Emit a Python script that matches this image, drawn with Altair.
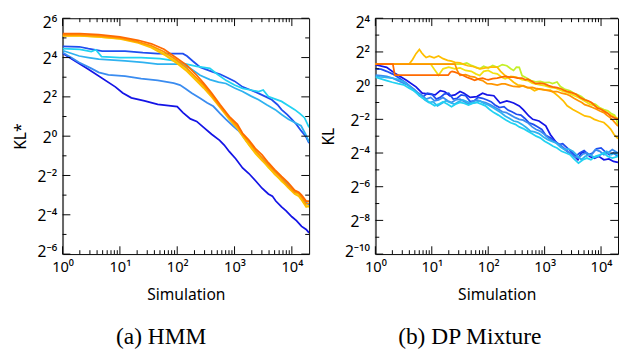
import altair as alt
import pandas as pd

# ---------------------------------------------------------------
# Values, as (log10 Simulation, log2 KL)
# ---------------------------------------------------------------

# (a) HMM
hmm_dark_blue = [(0,4.22),(0.45,3.4),(0.92,2.51),(1.05,2.2),(1.2,1.95),(1.43,1.8),(1.66,1.62),(1.85,1.55),(2.0,1.5),(2.1,1.2),(2.23,0.88),(2.34,0.75),(2.46,0.45),(2.6,0.1),(2.74,-0.21),(2.82,-0.45),(2.91,-0.79),(3.02,-1.15),(3.14,-1.62),(3.25,-1.9),(3.37,-2.28),(3.48,-2.65),(3.59,-2.94),(3.66,-3.05),(3.72,-3.3),(3.82,-3.6),(3.9,-3.8),(4.0,-4.1),(4.08,-4.3),(4.17,-4.59),(4.25,-4.75),(4.3,-4.92)]
hmm_blue = [(0,4.57),(0.29,4.55),(0.45,4.45),(0.69,4.33),(1.09,4.33),(1.4,4.25),(1.66,4.2),(2.0,4.2),(2.1,4.2),(2.17,4.08),(2.28,3.8),(2.4,3.51),(2.5,3.4),(2.63,3.26),(2.75,3.15),(2.85,3.01),(3.0,2.8),(3.14,2.51),(3.28,2.35),(3.42,2.18),(3.55,2.0),(3.65,1.85),(3.75,1.6),(3.82,1.35),(3.92,1.1),(4.0,0.86),(4.08,0.6),(4.16,0.28),(4.24,0.0),(4.3,-0.35)]
hmm_azure = [(0,4.26),(0.15,4.0),(0.29,3.75),(0.5,3.45),(0.63,3.25),(0.8,3.12),(1.09,3.05),(1.37,2.93),(1.66,2.84),(1.94,2.7),(2.05,2.6),(2.14,2.43),(2.25,2.2),(2.4,1.93),(2.52,1.7),(2.63,1.52),(2.75,1.15),(2.85,0.86),(2.97,0.53),(3.06,0.3),(3.14,0.04),(3.22,-0.3),(3.31,-0.63),(3.42,-0.95),(3.54,-1.29),(3.68,-1.7),(3.82,-2.12),(3.96,-2.55),(4.11,-2.94),(4.22,-3.3),(4.3,-3.5)]
hmm_sky = [(0,4.36),(0.29,4.08),(0.45,4.0),(0.63,3.92),(1.09,3.83),(1.4,3.75),(1.66,3.67),(2.06,3.67),(2.2,3.5),(2.4,3.1),(2.57,2.88),(2.72,2.75),(2.85,2.68),(3.0,2.45),(3.14,2.27),(3.28,2.05),(3.42,1.85),(3.56,1.6),(3.71,1.35),(3.82,1.1),(3.94,0.86),(4.05,0.7),(4.16,0.53),(4.24,0.1),(4.3,-0.3)]
hmm_cyan = [(0,4.46),(0.3,4.42),(0.5,4.3),(0.58,4.4),(0.68,4.05),(1.0,4.0),(1.37,4.0),(1.7,3.95),(1.94,3.85),(2.1,3.7),(2.34,3.55),(2.57,3.45),(2.7,3.15),(2.85,2.84),(3.0,2.6),(3.14,2.43),(3.28,2.35),(3.42,2.27),(3.5,2.35),(3.59,2.02),(3.7,1.9),(3.82,1.77),(3.94,1.55),(4.05,1.35),(4.14,1.15),(4.22,0.94),(4.3,0.45)]
hmm_yellow = [(0,5.12),(0.3,5.12),(0.63,5.05),(1.0,4.97),(1.32,4.78),(1.55,4.55),(1.77,4.2),(2.0,3.75),(2.17,3.35),(2.34,2.85),(2.46,2.5),(2.6,2.05),(2.75,1.55),(2.91,0.9),(3.05,0.45),(3.14,0.05),(3.25,-0.4),(3.37,-0.85),(3.48,-1.2),(3.59,-1.6),(3.7,-1.9),(3.82,-2.3),(3.93,-2.55),(4.05,-2.9),(4.12,-2.95),(4.17,-3.2),(4.25,-3.55),(4.3,-3.6)]
hmm_gold = [(0,5.1),(0.3,5.1),(0.63,5.05),(1.0,4.95),(1.32,4.75),(1.55,4.5),(1.77,4.15),(2.0,3.7),(2.17,3.3),(2.34,2.8),(2.46,2.45),(2.6,2.0),(2.75,1.45),(2.91,0.85),(3.05,0.4),(3.14,0.0),(3.25,-0.45),(3.37,-0.9),(3.48,-1.25),(3.59,-1.55),(3.7,-1.95),(3.82,-2.25),(3.93,-2.6),(4.05,-2.95),(4.12,-3.05),(4.17,-3.25),(4.25,-3.6),(4.3,-3.55)]
hmm_orange = [(0,5.15),(0.3,5.15),(0.63,5.1),(1.0,5.0),(1.32,4.8),(1.55,4.6),(1.77,4.3),(2.0,3.85),(2.17,3.45),(2.34,2.95),(2.46,2.6),(2.6,2.1),(2.75,1.5),(2.91,0.95),(3.05,0.5),(3.14,0.1),(3.25,-0.3),(3.37,-0.75),(3.48,-1.1),(3.59,-1.45),(3.7,-1.8),(3.82,-2.15),(3.93,-2.5),(4.05,-2.85),(4.12,-2.9),(4.17,-3.1),(4.25,-3.45),(4.3,-3.4)]
hmm_dark_orange = [(0,5.22),(0.3,5.22),(0.63,5.17),(1.0,5.05),(1.32,4.88),(1.55,4.7),(1.77,4.42),(2.0,3.95),(2.17,3.6),(2.34,3.1),(2.46,2.7),(2.6,2.2),(2.75,1.6),(2.91,1.0),(3.05,0.6),(3.14,0.15),(3.25,-0.2),(3.37,-0.65),(3.48,-0.95),(3.59,-1.35),(3.7,-1.7),(3.82,-2.05),(3.93,-2.35),(4.05,-2.75),(4.12,-2.85),(4.17,-3.0),(4.25,-3.3),(4.3,-3.3)]

# (b) DP Mixture
dp_dark_blue = [(0,1.24),(0.2,1.09),(0.36,0.7),(0.55,0.32),(0.72,-0.07),(0.83,-0.45),(0.95,-0.5),(1.06,-0.55),(1.15,-0.3),(1.23,-0.36),(1.32,-0.6),(1.41,-0.55),(1.5,-0.35),(1.57,-0.45),(1.68,-0.7),(1.8,-0.65),(1.9,-0.45),(1.98,-0.55),(2.1,-0.6),(2.21,-1.03),(2.33,-0.9),(2.45,-1.03),(2.55,-1.2),(2.62,-1.42),(2.72,-1.8),(2.79,-2.0),(2.9,-2.1),(3.02,-2.38),(3.1,-2.9),(3.2,-3.35),(3.3,-3.6),(3.41,-3.92),(3.5,-4.1),(3.59,-4.4),(3.65,-4.0),(3.71,-3.92),(3.8,-4.2),(3.88,-4.31),(3.96,-4.2),(4.05,-4.4),(4.14,-4.35),(4.22,-4.5),(4.3,-4.55)]
dp_blue = [(0,1.0),(0.1,0.98),(0.2,0.85),(0.3,0.7),(0.4,0.5),(0.55,0.15),(0.7,-0.3),(0.78,-0.6),(0.85,-0.65),(0.92,-0.45),(1.0,-0.5),(1.08,-0.8),(1.15,-0.7),(1.22,-0.5),(1.3,-0.45),(1.38,-0.8),(1.45,-0.75),(1.52,-0.55),(1.6,-0.6),(1.68,-0.95),(1.75,-0.9),(1.82,-0.7),(1.9,-0.75),(1.98,-0.85),(2.05,-0.95),(2.12,-1.15),(2.2,-1.3),(2.28,-1.25),(2.35,-1.45),(2.42,-1.55),(2.5,-1.7),(2.58,-1.75),(2.65,-1.95),(2.72,-2.2),(2.8,-2.3),(2.88,-2.45),(2.95,-2.6),(3.02,-2.95),(3.1,-3.1),(3.18,-3.3),(3.25,-3.5),(3.32,-3.45),(3.4,-3.7),(3.48,-3.95),(3.55,-4.2),(3.62,-4.0),(3.7,-3.85),(3.78,-4.1),(3.85,-4.0),(3.92,-3.75),(4.0,-3.7),(4.08,-3.95),(4.15,-4.1),(4.22,-4.0),(4.3,-4.2)]
dp_azure = [(0,0.62),(0.1,0.6),(0.2,0.55),(0.3,0.45),(0.4,0.3),(0.5,0.15),(0.6,0.0),(0.68,-0.2),(0.75,-0.4),(0.82,-0.55),(0.9,-0.8),(0.98,-0.7),(1.05,-0.9),(1.12,-0.85),(1.2,-0.7),(1.28,-0.9),(1.35,-1.0),(1.42,-0.85),(1.5,-0.8),(1.58,-0.95),(1.65,-1.1),(1.72,-0.95),(1.8,-0.85),(1.88,-0.95),(1.95,-1.0),(2.02,-1.1),(2.1,-1.25),(2.18,-1.4),(2.25,-1.55),(2.32,-1.6),(2.4,-1.75),(2.48,-1.9),(2.55,-2.0),(2.62,-2.05),(2.7,-2.2),(2.78,-2.45),(2.85,-2.6),(2.92,-2.7),(3.0,-2.9),(3.08,-3.15),(3.15,-3.3),(3.22,-3.4),(3.3,-3.6),(3.38,-3.85),(3.45,-4.0),(3.52,-4.2),(3.6,-4.3),(3.68,-4.05),(3.75,-4.0),(3.82,-4.15),(3.9,-3.8),(3.98,-3.9),(4.05,-4.1),(4.12,-4.0),(4.2,-3.8),(4.3,-4.0)]
dp_sky = [(0,0.55),(0.08,0.52),(0.15,0.5),(0.22,0.48),(0.3,0.45),(0.4,0.38),(0.5,0.25),(0.58,0.05),(0.65,-0.2),(0.72,-0.4),(0.8,-0.6),(0.88,-0.85),(0.95,-1.0),(1.02,-0.95),(1.1,-1.2),(1.18,-1.05),(1.25,-0.9),(1.32,-1.0),(1.4,-1.1),(1.48,-0.95),(1.55,-0.85),(1.62,-0.95),(1.7,-1.05),(1.78,-1.0),(1.85,-0.9),(1.92,-1.05),(2.0,-1.15),(2.08,-1.3),(2.15,-1.45),(2.22,-1.6),(2.3,-1.8),(2.38,-1.95),(2.45,-2.1),(2.52,-2.15),(2.6,-2.3),(2.68,-2.5),(2.75,-2.7),(2.82,-2.75),(2.9,-2.85),(2.98,-3.05),(3.05,-3.2),(3.12,-3.3),(3.2,-3.4),(3.28,-3.65),(3.35,-3.8),(3.42,-3.75),(3.5,-3.9),(3.58,-4.15),(3.65,-4.4),(3.72,-4.2),(3.8,-4.1),(3.88,-4.25),(3.95,-4.2),(4.02,-4.05),(4.1,-3.9),(4.18,-4.1),(4.25,-4.0),(4.3,-4.15)]
dp_cyan = [(0,0.5),(0.1,0.4),(0.2,0.3),(0.3,0.2),(0.4,0.12),(0.5,0.05),(0.6,-0.15),(0.68,-0.3),(0.75,-0.5),(0.82,-0.7),(0.9,-0.85),(0.98,-1.05),(1.05,-1.2),(1.12,-1.1),(1.2,-0.95),(1.28,-1.1),(1.35,-1.25),(1.42,-1.1),(1.5,-1.0),(1.58,-1.05),(1.65,-1.15),(1.72,-1.05),(1.8,-1.0),(1.88,-1.1),(1.95,-1.2),(2.02,-1.4),(2.1,-1.6),(2.18,-1.75),(2.25,-1.9),(2.32,-2.05),(2.4,-2.2),(2.48,-2.3),(2.55,-2.45),(2.62,-2.55),(2.7,-2.7),(2.78,-2.85),(2.85,-3.0),(2.92,-3.1),(3.0,-3.3),(3.08,-3.45),(3.15,-3.6),(3.22,-3.7),(3.3,-3.9),(3.38,-4.0),(3.45,-4.1),(3.52,-4.35),(3.6,-4.6),(3.68,-4.4),(3.75,-4.3),(3.82,-4.4),(3.9,-4.2),(3.98,-4.1),(4.05,-4.0),(4.12,-4.2),(4.2,-4.3),(4.3,-4.2)]
dp_yellow_green = [(0,1.28),(1.55,1.28),(1.62,1.35),(1.7,1.2),(1.78,1.1),(1.85,1.0),(1.92,1.15),(2.0,1.05),(2.08,1.2),(2.16,1.09),(2.25,1.25),(2.33,1.18),(2.4,1.0),(2.45,0.9),(2.5,1.1),(2.55,1.09),(2.6,0.6),(2.68,0.45),(2.76,0.3),(2.84,0.22),(2.92,0.25),(3.0,0.18),(3.08,0.2),(3.14,0.12),(3.22,0.22),(3.28,-0.05),(3.35,-0.2),(3.45,-0.3),(3.52,-0.45),(3.59,-0.55),(3.65,-0.65),(3.71,-0.8),(3.78,-0.95),(3.83,-1.03),(3.9,-1.1),(3.97,-1.3),(4.05,-1.42),(4.12,-1.5),(4.18,-1.65),(4.24,-1.75),(4.27,-2.0),(4.3,-2.3)]
dp_yellow = [(0,1.28),(0.98,1.28),(1.05,0.95),(1.12,0.62),(1.2,1.0),(1.3,1.1),(1.41,1.0),(1.5,1.05),(1.6,0.9),(1.7,0.85),(1.78,0.7),(1.85,0.6),(1.92,0.85),(2.0,0.9),(2.08,0.75),(2.16,0.7),(2.24,0.5),(2.3,0.4),(2.4,0.55),(2.5,0.5),(2.6,0.35),(2.7,0.3),(2.78,0.15),(2.84,0.1),(2.92,0.05),(3.0,0.0),(3.1,-0.1),(3.2,-0.15),(3.3,-0.3),(3.4,-0.4),(3.5,-0.55),(3.6,-0.7),(3.7,-0.9),(3.8,-1.1),(3.9,-1.2),(4.0,-1.4),(4.08,-1.55),(4.15,-1.7),(4.22,-1.8),(4.3,-1.95)]
dp_gold = [(0,1.28),(0.6,1.28),(0.66,1.55),(0.72,1.9),(0.78,2.15),(0.82,1.95),(0.86,1.8),(0.9,1.67),(0.96,1.75),(1.04,1.65),(1.12,1.76),(1.2,1.6),(1.28,1.5),(1.35,1.45),(1.41,1.38),(1.5,1.35),(1.58,1.25),(1.64,1.18),(1.72,1.15),(1.8,1.05),(1.86,1.0),(1.95,1.05),(2.05,1.1),(2.16,1.1),(2.22,0.85),(2.3,0.6),(2.38,0.4),(2.45,0.2),(2.52,0.05),(2.6,0.0),(2.68,-0.1),(2.75,-0.15),(2.82,-0.3),(2.9,-0.2),(3.0,-0.25),(3.1,-0.26),(3.18,-0.45),(3.25,-0.65),(3.33,-0.9),(3.4,-1.2),(3.5,-1.42),(3.6,-1.6),(3.71,-1.8),(3.8,-1.85),(3.88,-2.0),(3.96,-2.1),(4.05,-2.19),(4.12,-2.4),(4.17,-2.58),(4.23,-2.9),(4.3,-3.15)]
dp_orange = [(0,1.28),(1.41,1.28),(1.45,0.9),(1.5,0.61),(1.6,0.65),(1.68,0.55),(1.76,0.51),(1.84,0.35),(1.9,0.3),(1.98,0.12),(2.06,0.1),(2.16,0.03),(2.24,0.1),(2.3,0.1),(2.38,0.02),(2.45,-0.05),(2.55,-0.07),(2.62,0.0),(2.7,-0.12),(2.78,-0.1),(2.84,-0.16),(2.92,-0.2),(3.0,-0.25),(3.07,-0.3),(3.14,-0.36),(3.22,-0.35),(3.3,-0.45),(3.38,-0.5),(3.45,-0.6),(3.52,-0.75),(3.6,-0.9),(3.66,-1.0),(3.71,-1.13),(3.78,-1.2),(3.85,-1.3),(3.92,-1.4),(3.98,-1.51),(4.05,-1.6),(4.1,-1.75),(4.16,-1.9),(4.22,-2.09),(4.3,-2.4)]
dp_dark_orange = [(0,1.28),(0.31,1.28),(0.345,0.62),(0.7,0.62),(1.0,0.62),(1.29,0.62),(1.33,0.8),(1.36,0.85),(1.41,0.8),(1.45,0.75),(1.5,0.68),(1.55,0.62),(1.62,0.5),(1.7,0.4),(1.76,0.32),(1.83,0.4),(1.9,0.45),(1.96,0.38),(2.0,0.35),(2.08,0.42),(2.16,0.45),(2.23,0.5),(2.3,0.55),(2.38,0.5),(2.45,0.5),(2.52,0.45),(2.6,0.45),(2.66,0.35),(2.7,0.38),(2.78,0.25),(2.84,0.12),(2.92,0.15),(3.0,0.1),(3.07,0.0),(3.14,-0.07),(3.22,-0.12),(3.3,-0.2),(3.36,-0.3),(3.41,-0.36),(3.48,-0.42),(3.55,-0.5),(3.63,-0.7),(3.71,-0.84),(3.77,-0.9),(3.83,-1.0),(3.88,-1.15),(3.93,-1.32),(4.0,-1.4),(4.05,-1.5),(4.12,-1.65),(4.17,-1.8),(4.23,-1.9),(4.3,-2.0)]

hmm_names = ["dark blue", "blue", "azure", "sky", "cyan", "yellow", "gold", "orange", "dark orange"]
hmm_series = [hmm_dark_blue, hmm_blue, hmm_azure, hmm_sky, hmm_cyan, hmm_yellow, hmm_gold, hmm_orange, hmm_dark_orange]
dp_names = ["dark blue", "blue", "azure", "sky", "cyan", "yellow green", "yellow", "gold", "orange", "dark orange"]
dp_series = [dp_dark_blue, dp_blue, dp_azure, dp_sky, dp_cyan, dp_yellow_green, dp_yellow, dp_gold, dp_orange, dp_dark_orange]

palette = {
    "dark blue": "#1414e6", "blue": "#1f4ef0", "azure": "#3a8cf0", "sky": "#2fb2f0",
    "cyan": "#22d2f2", "yellow green": "#c4f028", "yellow": "#f2e010", "gold": "#ffbe00",
    "orange": "#ff9400", "dark orange": "#ff6a00",
}

x_major = [1, 10, 100, 1000, 10000]
x_minor = [m * 10 ** d for d in range(5) for m in range(2, 10) if m * 10 ** d < 20000]
X_MAX = 20000

SUP = "['\u2070','\u00b9','\u00b2','\u00b3','\u2074','\u2075','\u2076','\u2077','\u2078','\u2079']"
Y_LABEL = ("'2' + (datum.value < 0.99 ? '\u207b' : '') + "
           "(abs(round(log(datum.value)/LN2)) >= 10 ? '\u00b9' : '') + "
           + SUP + "[abs(round(log(datum.value)/LN2)) % 10]")
X_LABEL = "'10' + " + SUP + "[round(log(datum.value)/LN10)]"

FONT = "Noto Sans"


def to_frame(names, series):
    rows = []
    for name, pts in zip(names, series):
        for i, (lx, ly) in enumerate(pts):
            rows.append({"run": name, "i": i, "sim": 10 ** lx, "kl": 2 ** ly})
    return pd.DataFrame(rows)


def panel(names, series, ylo, yhi, ytitle, caption, width, height, title_pad):
    df = to_frame(names, series)
    xs = alt.Scale(type="log", domain=[1, X_MAX], nice=False)
    ys = alt.Scale(type="log", base=2, domain=[2.0 ** ylo, 2.0 ** yhi], nice=False)
    y_major = [2.0 ** k for k in range(ylo, yhi + 1, 2)]
    y_minor = [2.0 ** k for k in range(ylo + 1, yhi, 2)]

    x_axis = alt.Axis(
        values=x_major, labelExpr=X_LABEL, title="Simulation", ticks=False, tickSize=0,
        domain=False, grid=False, labelFlush=False, labelPadding=6, labelFontSize=15,
        labelFont=FONT, titleFont=FONT, titleFontSize=16, titleFontWeight="normal",
        titlePadding=13, labelColor="black", titleColor="black")
    y_axis = alt.Axis(
        values=y_major, labelExpr=Y_LABEL, title=ytitle, ticks=False, tickSize=0,
        domain=True, domainColor="#666666", domainWidth=2, grid=False,
        labelPadding=6, labelFontSize=16, labelFont=FONT, titleFont=FONT,
        titleFontSize=16, titleFontWeight="normal", titlePadding=title_pad,
        labelColor="black", titleColor="black",
        labelOffset={"condition": [
            {"test": f"datum.value > {2.0 ** (yhi - 1)}", "value": 5},
            {"test": f"datum.value < {2.0 ** (ylo + 1)}", "value": -3},
        ], "value": 1})

    lines = alt.Chart(df).mark_line(strokeWidth=1.8, clip=True).encode(
        x=alt.X("sim:Q", scale=xs, axis=x_axis, title="Simulation"),
        y=alt.Y("kl:Q", scale=ys, axis=y_axis, title=ytitle),
        color=alt.Color("run:N", scale=alt.Scale(domain=names, range=[palette[n] for n in names]), legend=None),
        order="i:Q",
    )

    layers = [lines]
    for vals, L in ((x_major, 8), (x_minor, 4)):
        d = alt.Chart(pd.DataFrame({"v": vals})).mark_rule(color="black", strokeWidth=1)
        xe = alt.X("v:Q", scale=xs, axis=x_axis, title="Simulation")
        layers.append(d.encode(x=xe, y=alt.value(height), y2=alt.value(height - L)))
        layers.append(d.encode(x=xe, y=alt.value(0), y2=alt.value(L)))
    for vals, L in ((y_major, 8), (y_minor, 4)):
        d = alt.Chart(pd.DataFrame({"v": vals})).mark_rule(color="black", strokeWidth=1)
        ye = alt.Y("v:Q", scale=ys, axis=y_axis, title=ytitle)
        layers.append(d.encode(y=ye, x=alt.value(0), x2=alt.value(L)))
        layers.append(d.encode(y=ye, x=alt.value(width), x2=alt.value(width - L)))

    return alt.layer(*layers).properties(
        width=width, height=height,
        title=alt.TitleParams(caption, orient="bottom", anchor="middle", frame="bounds",
                              font="Liberation Serif", fontSize=24, fontWeight="normal",
                              color="black", offset=23),
    )


left = panel(hmm_names, hmm_series, -6, 6, "KL*", "(a) HMM", 253, 242, 9)
right = panel(dp_names, dp_series, -10, 4, "KL", "(b) DP Mixture", 249, 242, 8)

chart = alt.hconcat(left, right, spacing=10).resolve_scale(color="independent").properties(
    padding={"left": 4, "top": 2, "right": 0, "bottom": 0}
).configure_view(stroke="black", strokeWidth=1)

chart.save("out.html", embed_options={"renderer": "svg", "actions": False})
